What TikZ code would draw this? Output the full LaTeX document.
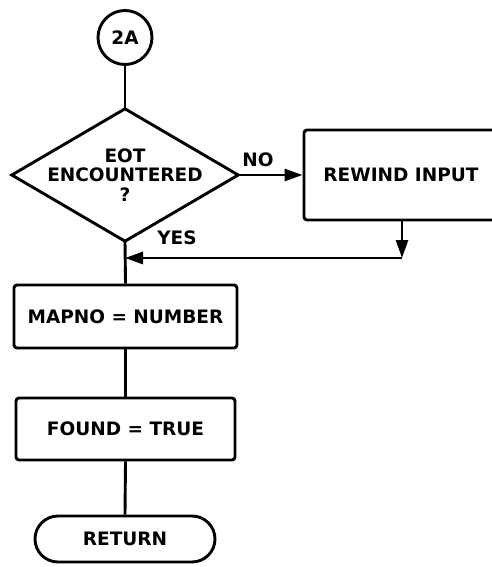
\documentclass[tikz,border=0pt]{standalone}
\usepackage{fontspec}
\newfontfamily\labfont{DejaVu Sans Bold}
\usetikzlibrary{arrows.meta}
\begin{document}
\begin{tikzpicture}[x=1pt,y=-1pt,
  txt/.style={font=\labfont\fontsize{18.5}{19.5}\selectfont},
  ln/.style={line width=2.9pt},
  arr/.style={ln,-{Triangle[length=18pt,width=12pt]}},
  box/.style={txt,draw,ln,rounded corners=3pt,inner sep=0pt},
  conn/.style={txt,draw,ln,circle,inner sep=0pt,minimum size=54pt},
  term/.style={txt,draw,ln,rounded corners=23pt,inner sep=0pt,minimum width=180pt,minimum height=46pt}]
\useasboundingbox (0,0) rectangle (491,567);
\node[conn] (c) at (125,37.5) {2A};
\node[txt,align=center,inner sep=0pt,minimum width=226pt,minimum height=132pt] (d) at (125,175) {EOT\\ENCOUNTERED\\?};
\draw[ln,line join=miter] (d.north) -- (d.east) -- (d.south) -- (d.west) -- cycle;
\node[box,minimum width=194pt,minimum height=90pt] (r) at (401,175) {REWIND INPUT};
\node[box,minimum width=223pt,minimum height=63pt] (m) at (125.5,316.5) {MAPNO = NUMBER};
\node[box,minimum width=219pt,minimum height=62pt] (f) at (125.5,429) {FOUND = TRUE};
\node[term] (t) at (125,539) {RETURN};
\coordinate (corner) at (402,258);
\coordinate (join) at (125,258);
\draw[ln] (c.south) -- (d.north);
\draw[arr] (d.east) -- (r.west |- d.east);
\node[txt,inner sep=0pt] (no) at (258,160) {NO};
\draw[arr] (r.south -| corner) -- (corner);
\draw[arr] (corner) -- (join);
\draw[ln] (d.south) -- (m.north);
\node[txt,inner sep=0pt] (yes) at (177,238) {YES};
\draw[ln] (m.south) -- (f.north);
\draw[ln] (f.south) -- (t.north);
\end{tikzpicture}
\end{document}
